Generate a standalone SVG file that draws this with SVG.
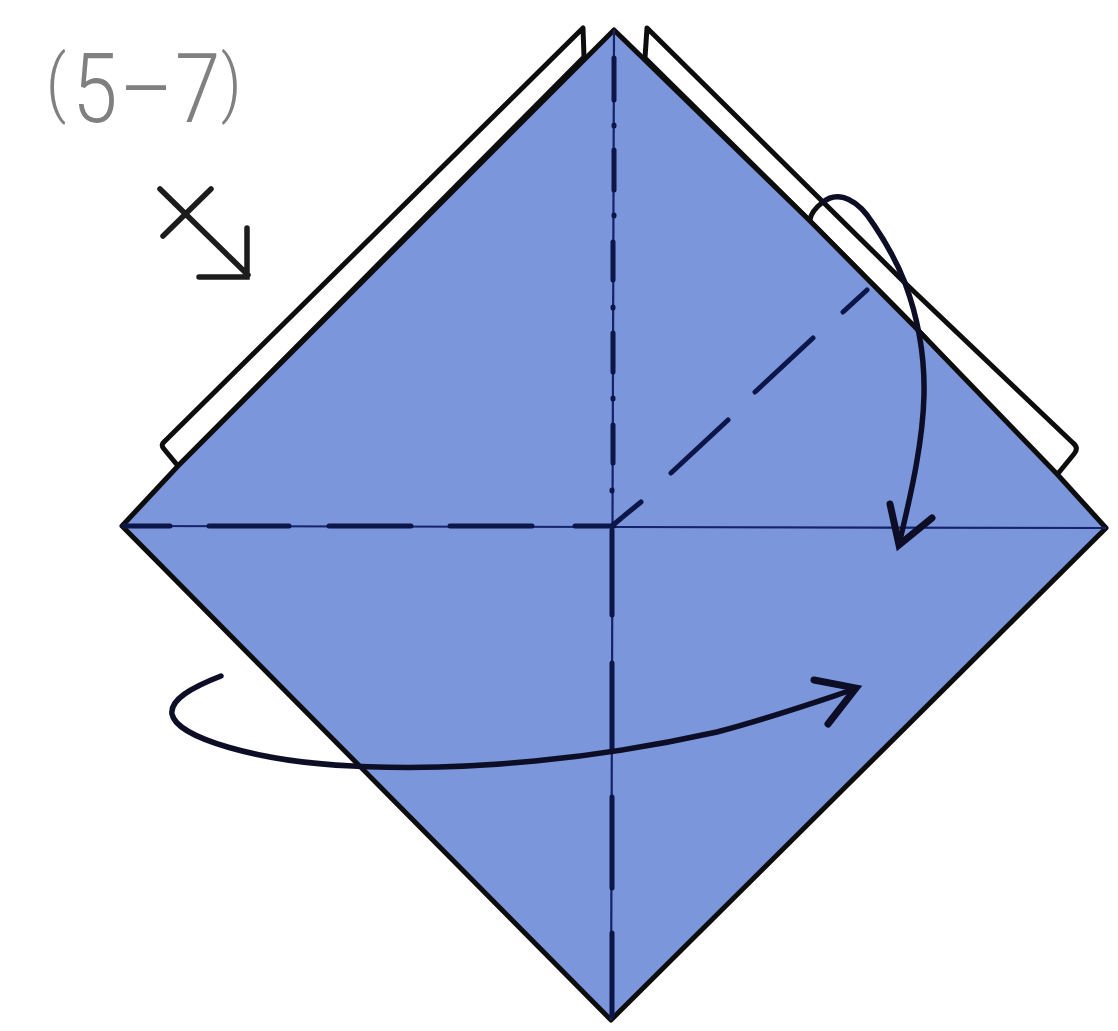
<svg xmlns="http://www.w3.org/2000/svg" width="1118" height="1031" viewBox="0 0 1118 1031">
<style>
.edge{fill:none;stroke:#111;stroke-width:5;stroke-linejoin:round;stroke-linecap:round}
.flap{fill:#fff;stroke:#111;stroke-width:5;stroke-linejoin:round}
.fold{fill:none;stroke:#0a1548;stroke-width:5;stroke-linecap:round}
.hair{fill:none;stroke:#14246a;stroke-width:2.2}
.arrow{fill:none;stroke:#0a0f28;stroke-width:5.5;stroke-linecap:round}
.head{fill:none;stroke:#0a0f28;stroke-width:7;stroke-linecap:round;stroke-linejoin:miter}
.mark{fill:none;stroke:#1c1c1c;stroke-width:5.5;stroke-linecap:round}
.label{font-family:Roboto,"Liberation Sans",sans-serif;font-weight:300;font-size:96px;fill:#808080}
.paren{font-size:74px}
</style>
<defs><filter id="soft" x="-2%" y="-2%" width="104%" height="104%"><feGaussianBlur stdDeviation="0.7"/></filter></defs>
<rect width="1118" height="1031" fill="#fff"/>
<g filter="url(#soft)">
<g id="flaps">
<path class="flap" d="M583 28 L584 57 L178 466 L164 449 Q160 445 165 441 Z"/>
<path class="flap" d="M647 28 L823 202 L905 283 L1073 443 Q1079 448 1074 454 L1056 476 L913 325 L810 221 L645 58 Z"/>
<path class="edge" d="M810 220 Q811 211 823 202"/>
</g>
<g id="paper">
<path d="M614 30 L810 221 L913 325 L1057 474 L1106 528 L611 1020 L122 526 L178 466 Z" fill="#7b96dc" stroke="#111" stroke-width="5" stroke-linejoin="round"/>
</g>
<g id="creases">
<path class="hair" d="M614 30 L611 1020"/>
<path class="hair" d="M122 526 L1106 528"/>
<path class="fold" d="M614 58V100M614 125V126M614 150V190M614 215V216M613 242V280M613 307V308M613 333V372M613 398V399M613 425V463M612 490V491M612 530V615M612 663V750M612 797V888M612 933V1016"/>
<path class="fold" d="M124 526H170M209 526H289M329 526H411M450 526H532M575 526H614"/>
<path class="fold" d="M613 525L641 502M671 473L728 420M755 392L813 338M843 312L867 290"/>
</g>
<g id="connectors">
<path class="arrow" d="M823 202 C835 192 852 196 867 215 C885 240 898 265 905 283 C915 310 925 350 924 395 C923 440 912 490 900 540"/>
<path class="head" d="M890 504 L899 545 L932 518"/>
<path class="arrow" d="M221 676 C190 688 170 700 172 714 C176 738 260 762 353 766 C470 772 600 758 717 732 C770 718 810 704 852 690"/>
<path class="head" d="M814 680 L856 688 L828 724"/>
</g>
<g id="label">
<text class="label" transform="scale(0.85 1)"><tspan class="paren" x="54" y="108">(</tspan><tspan x="85" y="122">5</tspan><tspan x="141" y="122">–</tspan><tspan x="206" y="122">7</tspan><tspan class="paren" x="260" y="108">)</tspan></text>
</g>
<g id="direction-mark">
<path class="mark" d="M160 189 L248 275 M211 189 L163 236 M247 228 V277 H199"/>
</g>
</g>
</svg>
